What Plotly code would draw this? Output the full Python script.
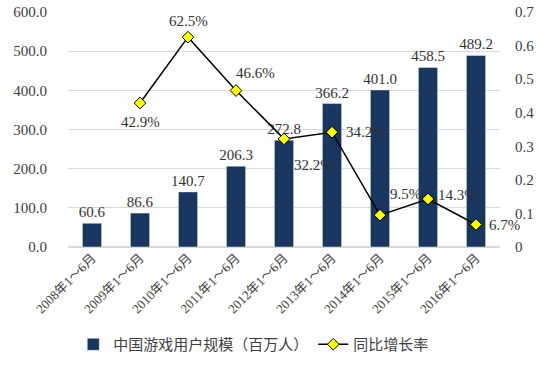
import plotly.graph_objects as go

categories = ["2008年1～6月", "2009年1～6月", "2010年1～6月", "2011年1～6月", "2012年1～6月",
              "2013年1～6月", "2014年1～6月", "2015年1～6月", "2016年1～6月"]
users = [60.6, 86.6, 140.7, 206.3, 272.8, 366.2, 401.0, 458.5, 489.2]
growth = [None, 0.429, 0.625, 0.466, 0.322, 0.342, 0.095, 0.143, 0.067]
# label offsets (px) for the growth-rate labels
growth_dx = [0, 0, 0, 19, 29, 33, 25, 29, 28]
growth_dy = [0, -19, 16, 18, -26, 0, 21, 4, 0]

FONT = "Liberation Serif, Noto Sans CJK SC, serif"

fig = go.Figure()
fig.add_trace(go.Bar(
    x=categories, y=users, name="中国游戏用户规模（百万人）",
    marker_color="#17375E", width=0.4,
    text=[f"{v:.1f}" for v in users], textposition="outside", constraintext="none",
    textfont=dict(size=15, color="#333333"), cliponaxis=False,
))
fig.add_trace(go.Scatter(
    x=categories, y=growth, name="同比增长率", yaxis="y2",
    mode="lines+markers",
    line=dict(color="black", width=1.5),
    marker=dict(symbol="diamond", size=9, color="#FFFF00", line=dict(color="black", width=1)),
    cliponaxis=False,
))

for c, g, dx, dy in zip(categories, growth, growth_dx, growth_dy):
    if g is None:
        continue
    fig.add_annotation(x=c, y=g, yref="y2", text=f"{g*100:.1f}%", showarrow=False,
                       xshift=dx, yshift=dy, font=dict(size=15, color="#333333"))

fig.update_layout(
    width=550, height=383,
    margin=dict(l=68, r=50, t=12, b=136),
    paper_bgcolor="white", plot_bgcolor="white",
    font=dict(family=FONT, size=13, color="#404040"),
    showlegend=True,
    legend=dict(orientation="h", x=0.43, xanchor="center", y=-0.415, yanchor="middle",
                font=dict(size=15, color="#404040")),
    xaxis=dict(tickangle=-45, showgrid=False, showline=False, tickfont=dict(size=13),
               automargin=False, range=[-0.5, 8.5]),
    yaxis=dict(range=[0, 600], dtick=100, tickformat=".1f", showgrid=True,
               gridcolor="#D9D9D9", gridwidth=1, zeroline=True, zerolinecolor="#D9D9D9",
               tickfont=dict(size=15), ticks="", ticklabelstandoff=20, automargin=False),
    yaxis2=dict(range=[0, 0.7], dtick=0.1, overlaying="y", side="right", showgrid=False,
                zeroline=False, tickfont=dict(size=15), ticklabelstandoff=14,
                automargin=False),
    bargap=0.6,
)

fig.write_html("out.html", config={"displayModeBar": False},
               post_script="document.body.style.margin='0';document.body.style.overflow='hidden';")
